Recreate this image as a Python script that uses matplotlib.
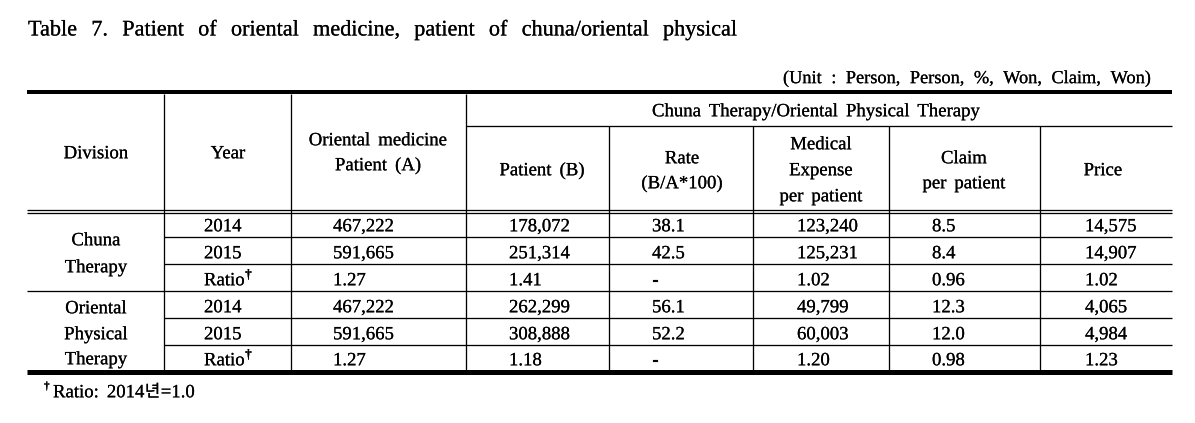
import matplotlib
matplotlib.use("Agg")
import matplotlib.pyplot as plt
import matplotlib.patheffects as pe

plt.rcParams['font.family'] = ['Liberation Serif', 'Noto Sans CJK KR', 'DejaVu Sans']

# ---- data ----
title = "Table 7. Patient of oriental medicine, patient of chuna/oriental physical"
unit_text = "(Unit : Person, Person, %, Won, Claim, Won)"
divisions = [["Chuna", "Therapy"], ["Oriental", "Physical", "Therapy"]]
years = ["2014", "2015", "Ratio"]
oriental_patient_a = ["467,222", "591,665", "1.27", "467,222", "591,665", "1.27"]
patient_b = ["178,072", "251,314", "1.41", "262,299", "308,888", "1.18"]
rate = ["38.1", "42.5", "-", "56.1", "52.2", "-"]
med_expense = ["123,240", "125,231", "1.02", "49,799", "60,003", "1.20"]
claim = ["8.5", "8.4", "0.96", "12.3", "12.0", "0.98"]
price = ["14,575", "14,907", "1.02", "4,065", "4,984", "1.23"]
footnote_parts = ["Ratio:", "2014", "년", "=1.0"]

W, H = 1195, 423
fig = plt.figure(figsize=(W / 100, H / 100), dpi=100)
ax = fig.add_axes([0, 0, 1, 1])
ax.set_xlim(0, W)
ax.set_ylim(H, 0)
ax.axis('off')
fig.canvas.draw()
renderer = fig.canvas.get_renderer()

FS = 13.5
px = 0.72  # points per pixel
# draw text as paths (exact baselines), with a very faint stroke for slightly darker glyphs
PE = [pe.Stroke(linewidth=0.12, foreground='black'), pe.Normal()]
SERIF = 'Liberation Serif'
KR = 'Noto Sans CJK KR'


def base(y, fs):
    # convert a visual centre (cap-height middle) to a baseline position
    return y + 0.335 * fs / 0.72


def text_width(s, fs, family=SERIF):
    t = ax.text(0, 0, s, fontsize=fs, family=family)
    w = t.get_window_extent(renderer).width
    t.remove()
    return w


def put(x, y, s, fs=FS, ha='left', family=SERIF, **kw):
    ax.text(x, base(y, fs), s, fontsize=fs, ha=ha, va='baseline',
            family=family, path_effects=PE, **kw)


def words(x, y, s, fs=FS, ha='center', gap_em=0.42, total=None):
    ws = s.split()
    widths = [text_width(w, fs) for w in ws]
    if total is not None and len(ws) > 1:
        gap = (total - sum(widths)) / (len(ws) - 1)
    else:
        gap = gap_em * fs / 0.72
    tot = sum(widths) + gap * (len(ws) - 1)
    x0 = {'left': x, 'center': x - tot / 2, 'right': x - tot}[ha]
    for w, wd in zip(ws, widths):
        put(x0, y, w, fs=fs)
        x0 += wd + gap
    return x0 - gap


def hline(y, x0, x1, w=1.3):
    ax.plot([x0, x1], [y, y], color='black', lw=w * px, solid_capstyle='butt')


def vline(x, y0, y1, w=1.3):
    ax.plot([x, x], [y0, y1], color='black', lw=w * px, solid_capstyle='butt')


L, R = 27, 1172
# title and unit
words(28, 28, title, fs=16, ha='left', total=709)
words(783, 77, unit_text, fs=13.2, ha='left', total=368)

# lines
hline(92, L, R, 4)
hline(126, 466, R)
hline(210.3, L, R)
hline(213.3, L, R)
for y in [237.5, 264.5, 318.5, 345.5]:
    hline(y, 164, R)
hline(291.5, L, R)
hline(372.5, L, R, 5)
for x in [164, 291, 466]:
    vline(x, 94, 370)
for x in [609, 753, 889, 1040]:
    vline(x, 126, 370)

# header
ctext = lambda x, y, s: words(x, y, s)
ctext(96, 152, "Division")
ctext(228, 152, "Year")
ctext(378, 139, "Oriental medicine")
ctext(378, 164, "Patient (A)")
words(816, 110, "Chuna Therapy/Oriental Physical Therapy", total=328)
ctext(542, 169, "Patient (B)")
ctext(682, 157, "Rate")
ctext(682, 182, "(B/A*100)")
ctext(821, 143, "Medical")
ctext(821, 169, "Expense")
ctext(821, 195, "per patient")
ctext(964, 157, "Claim")
ctext(964, 182, "per patient")
ctext(1103, 169, "Price")

# division labels
div_y = [[239, 266], [307, 333, 358]]
for labels, ys in zip(divisions, div_y):
    for s, y in zip(labels, ys):
        ctext(96, y, s)

row_y = [225, 252, 279, 306, 333, 359]
for i, y in enumerate(row_y):
    yl = years[i % 3]
    put(204, y, yl)
    if yl == "Ratio":
        xr = 204 + text_width(yl, FS)
        ax.text(xr + 0.5, base(y, FS) - 7, "†", fontsize=9.5, ha='left',
                va='baseline', family=SERIF, fontweight='bold', path_effects=PE)
    cols = [(333, oriental_patient_a), (509, patient_b), (652, rate),
            (797, med_expense), (932, claim), (1085, price)]
    for x, arr in cols:
        put(x, y, arr[i])

# footnote
ax.text(44, base(391, 13.5) - 8, "†", fontsize=8, ha='left', va='baseline',
        family=SERIF, fontweight='bold', path_effects=PE)
fx = 53
gaps = [8, 0.5, 0.5, 0]
for part, g in zip(footnote_parts, gaps):
    fam = KR if part == "년" else SERIF
    fs = 12 if fam == KR else 13.5
    put(fx, 391, part, fs=fs, family=fam)
    fx += text_width(part, fs, fam) + g

fig.savefig("out.png", dpi=100)
